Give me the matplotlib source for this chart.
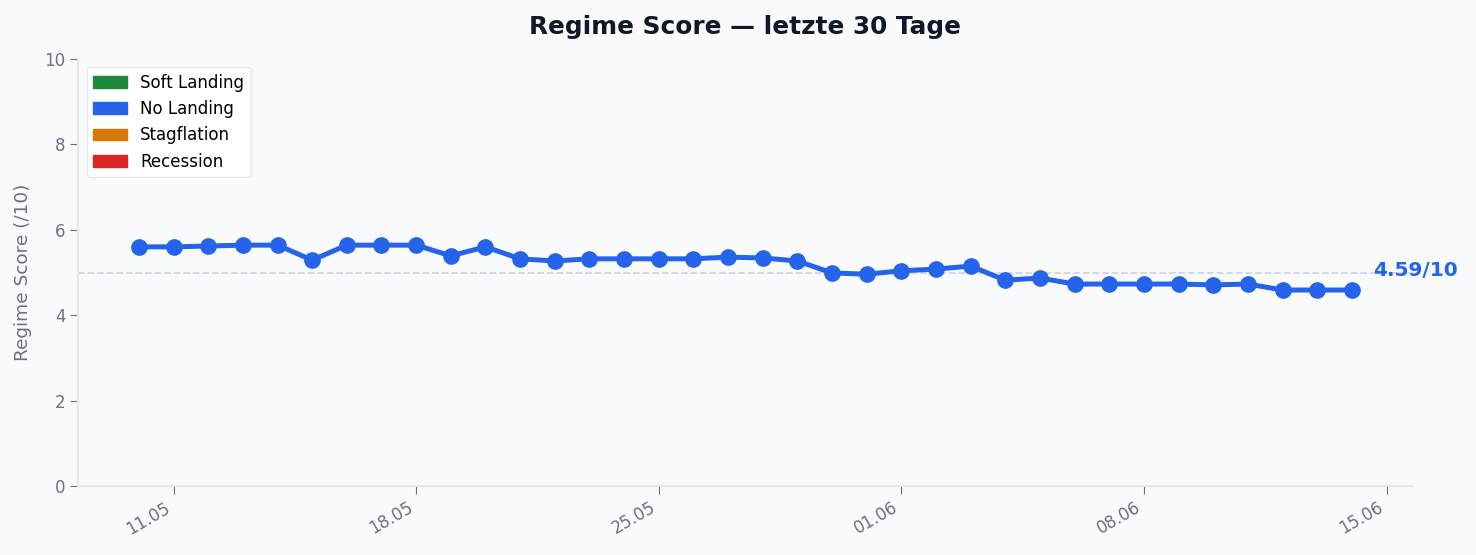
import matplotlib
matplotlib.use('Agg')
import matplotlib.pyplot as plt
import matplotlib.dates as mdates
from matplotlib.patches import Patch
import numpy as np
import pandas as pd

plt.rcParams['font.family'] = ['DejaVu Sans']

# data: daily regime score, 10.05 - 14.06
dates = pd.date_range('2025-05-10', '2025-06-14', freq='D')
scores = [5.60, 5.60, 5.62, 5.64, 5.64, 5.29, 5.64, 5.64, 5.64, 5.39,
          5.60, 5.32, 5.27, 5.32, 5.32, 5.32, 5.32, 5.36, 5.34, 5.27,
          4.99, 4.96, 5.04, 5.08, 5.15, 4.82, 4.87, 4.73, 4.73, 4.73,
          4.73, 4.71, 4.73, 4.59, 4.59, 4.59]
regimes = ['Soft Landing', 'No Landing', 'Stagflation', 'Recession']
regime_colors = ['#1f8a3d', '#2563eb', '#d97706', '#dc2626']
threshold = 5.0

bg = '#f8fafc'
fig, ax = plt.subplots(figsize=(14.76, 5.55), dpi=100)
fig.patch.set_facecolor(bg)
ax.set_facecolor(bg)

ax.axhline(threshold, color='#cbd5e1', linestyle='--', linewidth=1.3)
ax.plot(dates, scores, color='#2563eb', linewidth=3.6, marker='o', markersize=11)

# label for the latest value
ax.annotate(f'{scores[-1]:.2f}/10', xy=(dates[-1], scores[-1]), xytext=(15, 14),
            textcoords='offset points', color='#2563eb', fontsize=14.5,
            fontweight='bold', va='center', ha='left')

ax.set_ylim(0, 10)
ax.set_title('Regime Score — letzte 30 Tage', fontsize=17.8, fontweight='bold',
             color='#111827', pad=18)
ax.set_ylabel('Regime Score (/10)', fontsize=13.3, color='#6b7280', labelpad=9)

ax.xaxis.set_major_locator(mdates.WeekdayLocator(byweekday=mdates.SU))
ax.xaxis.set_major_formatter(mdates.DateFormatter('%d.%m'))
plt.setp(ax.get_xticklabels(), rotation=30, ha='right')
ax.tick_params(colors='#6b7280', labelsize=12, length=5.5)

for s in ['top', 'right']:
    ax.spines[s].set_visible(False)
for s in ['left', 'bottom']:
    ax.spines[s].set_color('#e2e8f0')
    ax.spines[s].set_linewidth(1.5)

handles = [Patch(color=c, label=r) for r, c in zip(regimes, regime_colors)]
leg = ax.legend(handles=handles, loc='upper left', fontsize=12, frameon=True,
                facecolor='white', edgecolor='#e5e7eb', framealpha=1)

plt.subplots_adjust(left=0.053, right=0.957, top=0.894, bottom=0.124)
plt.savefig('out.png', facecolor=bg)
